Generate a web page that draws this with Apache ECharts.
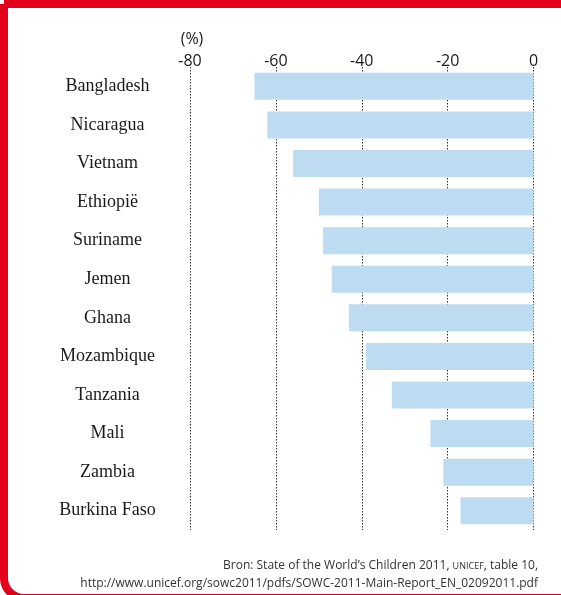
<!DOCTYPE html>
<html>
<head>
<meta charset="utf-8">
<script src="https://cdn.jsdelivr.net/npm/echarts@6/dist/echarts.min.js"></script>
<style>
html,body{margin:0;padding:0;background:#fff;}
#c{width:561px;height:595px;}
</style>
</head>
<body>
<div id="c"></div>
<script>
var categories = ['Bangladesh','Nicaragua','Vietnam','Ethiopië','Suriname','Jemen','Ghana','Mozambique','Tanzania','Mali','Zambia','Burkina Faso'];
var values = [-65,-62,-56,-50,-49,-47,-43,-39,-33,-24,-21,-17];
var axisMin = -80, axisMax = 0, axisStep = 20;
var unitLabel = '(%)';
var sourceLine1 = 'Bron: State of the World\u2019s Children 2011, {sc|UNICEF}, table 10,';
var sourceLine2 = 'http://www.unicef.org/sowc2011/pdfs/SOWC-2011-Main-Report_EN_02092011.pdf';

var chart = echarts.init(document.getElementById('c'), null, {renderer:'canvas'});
chart.setOption({
  animation:false,
  backgroundColor:'#fff',
  grid:{left:190, right:27.5, top:67, bottom:65, containLabel:false},
  xAxis:{
    type:'value', position:'top', min:axisMin, max:axisMax, interval:axisStep,
    axisLine:{show:false}, axisTick:{show:false},
    axisLabel:{margin:-2, color:'#1a1a1a', fontFamily:'Open Sans', fontSize:16},
    splitLine:{show:true, lineStyle:{color:'#333', width:1, type:[1.5,1.5]}}
  },
  yAxis:{
    type:'category', data:categories, inverse:true,
    axisLine:{show:false}, axisTick:{show:false},
    axisLabel:{margin:82.5, align:'center', color:'#1a1a1a', fontFamily:'Liberation Serif', fontSize:18, padding:[3,0,0,0]}
  },
  series:[{
    type:'bar', data:values, barWidth:27,
    itemStyle:{color:'#bddcf1'}, z:1
  }],
  graphic:[
    {type:'rect', silent:true, z:100,
     shape:{x:4, y:4, width:600, height:594, r:[0,0,0,20]},
     style:{fill:null, stroke:'#e2001a', lineWidth:8}},
    {type:'text', x:192, y:39, z:50,
     style:{text:unitLabel, fill:'#1a1a1a', font:'16px "Open Sans"', align:'center', verticalAlign:'middle'}},
    {type:'text', x:538, y:566, z:50,
     style:{text:sourceLine1, fill:'#333', font:'12px "Open Sans"', align:'right', verticalAlign:'middle',
       rich:{sc:{fontSize:9, fontFamily:'Open Sans', fill:'#333'}}}},
    {type:'text', x:538, y:584, z:50,
     style:{text:sourceLine2, fill:'#333', font:'12px "Open Sans"', align:'right', verticalAlign:'middle'}}
  ]
});
</script>
</body>
</html>
